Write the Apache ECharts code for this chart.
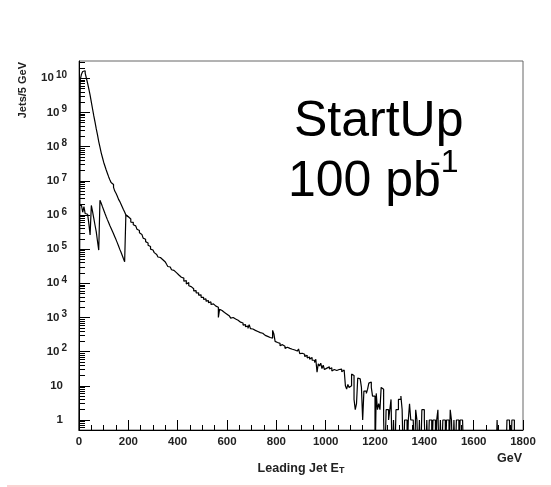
<!DOCTYPE html>
<html><head><meta charset="utf-8">
<script src="https://cdn.jsdelivr.net/npm/echarts@6/dist/echarts.min.js"></script>
<style>html,body{margin:0;padding:0;background:#fff}#c{width:551px;height:487px}</style>
</head><body><div id="c"></div>
<script>
// bin width in GeV; arrays hold counts per 5 GeV bin starting at 0 GeV
const binWidth = 5;
const leadingJet = [
  0, 8.9e9, 1.32e10, 1.58e10, 1.66e10, 1.41e10, 1.0e10, 7.1e9, 4.8e9, 3.2e9,
  2.0e9, 1.26e9, 7.9e8, 5.2e8, 3.3e8, 2.2e8, 1.4e8, 9.6e7, 6.6e7, 4.8e7,
  3.5e7, 2.7e7, 2.1e7, 1.66e7, 1.32e7, 1.07e7, 8.9e6, 7.8e6, 6.4e6, 5.0e6,
  4.3e6, 3.6e6, 2.9e6, 2.5e6, 2.1e6, 1.75e6, 1.45e6, 1.22e6, 1.0e6, 8.9e5,
  7.9e5, 7.6e5, 6.2e5, 6.1e5, 5.2e5, 4.8e5, 4.4e5, 3.8e5, 3.5e5, 3.0e5,
  2.7e5, 2.5e5, 2.1e5, 1.95e5, 1.66e5, 1.52e5, 1.3e5, 1.19e5, 1.0e5, 9.4e4,
  8.5e4, 7.9e4, 7.0e4, 6.6e4, 5.9e4, 5.7e4, 5.0e4, 4.9e4, 4.4e4, 4.2e4,
  3.8e4, 3.6e4, 3.1e4, 3.0e4, 3.2e4, 2.5e4, 2.4e4, 2.1e4, 2.05e4, 1.8e4,
  1.75e4, 1.55e4, 1.5e4, 1.35e4, 1.42e4, 1.15e4, 1.2e4, 9.6e3, 1.05e4, 8.5e3,
  8.0e3, 7.1e3, 6.9e3, 6.0e3, 6.1e3, 5.2e3, 5.3e3, 4.5e3, 4.6e3, 3.9e3,
  3.9e3, 3.4e3, 3.5e3, 3.0e3, 3.1e3, 2.7e3, 2.85e3, 2.4e3, 2.5e3, 2.2e3,
  2.15e3, 1.95e3, 2.0e3, 1.0e3, 1.75e3, 1.6e3, 1.65e3, 1.4e3, 1.45e3, 1.25e3,
  1.22e3, 1.1e3, 1.12e3, 960, 1.0e3, 880, 900, 800, 830, 740,
  730, 670, 690, 600, 620, 540, 560, 480, 620, 470,
  460, 450, 420, 470, 390, 380, 360, 330, 345, 310,
  300, 285, 280, 250, 260, 230, 250, 420, 330, 200,
  185, 170, 175, 150, 160, 140, 145, 125, 135, 120,
  125, 110, 118, 105, 112, 98, 104, 92, 120, 88,
  90, 80, 84, 72, 78, 66, 70, 60, 68, 56,
  56, 48, 60, 25, 44, 38, 46, 32, 40, 30,
  33, 30, 36, 31, 34, 27, 30, 33, 28, 25,
  30, 27, 31, 26, 29, 30, 10, 8, 11, 9,
  10, 22, 20, 4, 2, 3, 17, 16, 18, 9,
  1, 7, 7, 6, 8, 12, 13, 9, 5, 5,
  0, 6, 2, 3, 2, 9, 8, 1, 0, 2,
  2, 1, 2, 4, 0, 1, 0, 2, 2, 4,
  4, 5, 2, 0, 1, 1, 0, 1, 3, 1,
  1, 1, 0, 2, 1, 0, 1, 0, 2, 2,
  1, 0, 1, 0, 1, 1, 0, 1, 1, 0,
  1, 2, 0, 1, 0, 1, 1, 0, 1, 1,
  0, 2, 1, 0, 1, 0, 1, 1, 0, 1,
  1, 1, 0, 0, 0, 0, 0, 0, 0, 0,
  0, 0, 0, 0, 0, 0, 0, 0, 0, 0,
  0, 0, 0, 0, 0, 0, 0, 0, 0, 1,
  0, 0, 0, 0, 0, 0, 0, 1, 1, 1,
  0, 1, 1, 0, 0, 0, 0, 0, 0, 0
];
const lowTrigger = [
  1.9e6, 1.9e6, 1.85e6, 1.2e6, 1.75e6, 1.1e6, 1.05e6, 1.1e6, 5.5e5, 2.6e5,
  1.9e6, 1.25e6, 8.0e5, 5.0e5, 3.2e5, 1.7e5, 9.4e4, 2.7e6, 2.2e6, 1.75e6,
  1.4e6, 1.12e6, 9.0e5, 7.3e5, 6.0e5, 4.9e5, 4.1e5, 3.4e5, 2.8e5, 2.3e5,
  1.9e5, 1.55e5, 1.25e5, 1.0e5, 8.2e4, 6.6e4, 5.3e4, 4.3e4, 1.0e6, 8.9e5
];
const xTickLabels = [0, 200, 400, 600, 800, 1000, 1200, 1400, 1600, 1800];
const yMajorTicks = [1, 10, 1e2, 1e3, 1e4, 1e5, 1e6, 1e7, 1e8, 1e9, 1e10];
const yMinorMultipliers = [2, 3, 4, 5, 6, 7, 8, 9];

const yMin = 0.51, yMax = 3.2e10, emptyBin = 0.05;
const yMinorTicks = [];
[0.1].concat(yMajorTicks).forEach(function (p) {
  yMinorMultipliers.forEach(function (m) {
    const v = p * m;
    if (v > yMin && v < yMax) yMinorTicks.push(v);
  });
});

function histSteps(values) {
  const pts = values.map(function (v, i) { return [i * binWidth, v > 0 ? v : emptyBin]; });
  const last = values[values.length - 1];
  pts.push([values.length * binWidth, last > 0 ? last : emptyBin]);
  return pts;
}

const FONT = 'Liberation Sans, Arial, sans-serif';
const chart = echarts.init(document.getElementById('c'), null, { renderer: 'canvas' });
const lineStyle = { color: '#000', width: 1 };

chart.setOption({
  animation: false,
  backgroundColor: '#fff',
  grid: { left: 79, right: 28, top: 61, bottom: 57, show: true, borderColor: '#666', borderWidth: 1, backgroundColor: 'transparent' },
  xAxis: {
    type: 'value', min: 0, max: 1800, interval: 200,
    axisLine: { show: true, onZero: false, lineStyle: lineStyle },
    axisTick: { show: true, inside: true, length: 10, lineStyle: lineStyle },
    minorTick: { show: true, splitNumber: 4, length: 5, lineStyle: lineStyle },
    splitLine: { show: false },
    axisLabel: {
      show: true, margin: 6, fontSize: 11.5, fontWeight: 'bold', color: '#222', fontFamily: FONT,
      showMinLabel: true, showMaxLabel: true,
      customValues: xTickLabels,
      formatter: function (v) { return String(v); }
    }
  },
  yAxis: [{
    type: 'log', logBase: 10, min: yMin, max: yMax, position: 'left',
    axisLine: { show: true, lineStyle: lineStyle },
    axisTick: { show: true, inside: true, length: 11, lineStyle: lineStyle, customValues: yMajorTicks },
    minorTick: { show: false },
    splitLine: { show: false },
    axisLabel: {
      show: true, margin: 12, color: '#222', fontFamily: FONT,
      customValues: yMajorTicks,
      formatter: function (v) {
        const n = Math.round(Math.log10(v));
        if (n === 0) return '{p|1}';
        if (n === 1) return '{p|10}';
        return '{b|10}{e|' + n + '}';
      },
      rich: {
        p: { fontSize: 11.5, fontWeight: 'bold', fontFamily: FONT, color: '#222', padding: [0, 4, 0, 0] },
        b: { fontSize: 11.5, fontWeight: 'bold', fontFamily: FONT, color: '#222' },
        e: { fontSize: 10, fontWeight: 'bold', fontFamily: FONT, color: '#222', padding: [0, 0, 6, 2] }
      }
    }
  }, {
    type: 'log', logBase: 10, min: yMin, max: yMax, position: 'left', offset: 0,
    axisLine: { show: false },
    axisTick: { show: true, inside: true, length: 6, lineStyle: lineStyle, customValues: yMinorTicks },
    axisLabel: { show: false },
    splitLine: { show: false }
  }],
  series: [{
    type: 'line', step: 'end', showSymbol: false, symbol: 'none', clip: true,
    lineStyle: { color: '#000', width: 1.2 },
    data: histSteps(leadingJet), z: 3
  }, {
    type: 'line', step: 'end', showSymbol: false, symbol: 'none', clip: true,
    lineStyle: { color: '#000', width: 1.2 },
    data: histSteps(lowTrigger), z: 3
  }],
  graphic: [
    { type: 'text', x: 23, y: 62, rotation: Math.PI / 2,
      style: { text: 'Jets/5 GeV', font: 'bold 11px ' + FONT, fill: '#222', align: 'right', verticalAlign: 'middle' } },
    { type: 'text', x: 522, y: 459,
      style: { text: 'GeV', font: 'bold 12.5px ' + FONT, fill: '#222', align: 'right', verticalAlign: 'middle' } },
    { type: 'text', x: 301, y: 471,
      style: { text: '{a|Leading Jet E}{t|T}', align: 'center', verticalAlign: 'middle',
        rich: { a: { fontSize: 12.5, fontWeight: 'bold', fontFamily: FONT, fill: '#222', padding: [0, 0, 4, 0] },
                t: { fontSize: 9, fontWeight: 'bold', fontFamily: FONT, fill: '#222' } } } },
    { type: 'text', x: 294, y: 122.5,
      style: { text: 'StartUp', font: '50px ' + FONT, fill: '#000', align: 'left', verticalAlign: 'middle' } },
    { type: 'text', x: 288, y: 182.5,
      style: { text: '100 pb', font: '50px ' + FONT, fill: '#000', align: 'left', verticalAlign: 'middle' } },
    { type: 'text', x: 430, y: 163.5,
      style: { text: '-1', font: '32px ' + FONT, fill: '#000', align: 'left', verticalAlign: 'middle' } },
    { type: 'line', shape: { x1: 7, y1: 486, x2: 551, y2: 486 }, style: { stroke: '#f6a5a5', lineWidth: 1 } }
  ]
});
</script>
</body></html>
